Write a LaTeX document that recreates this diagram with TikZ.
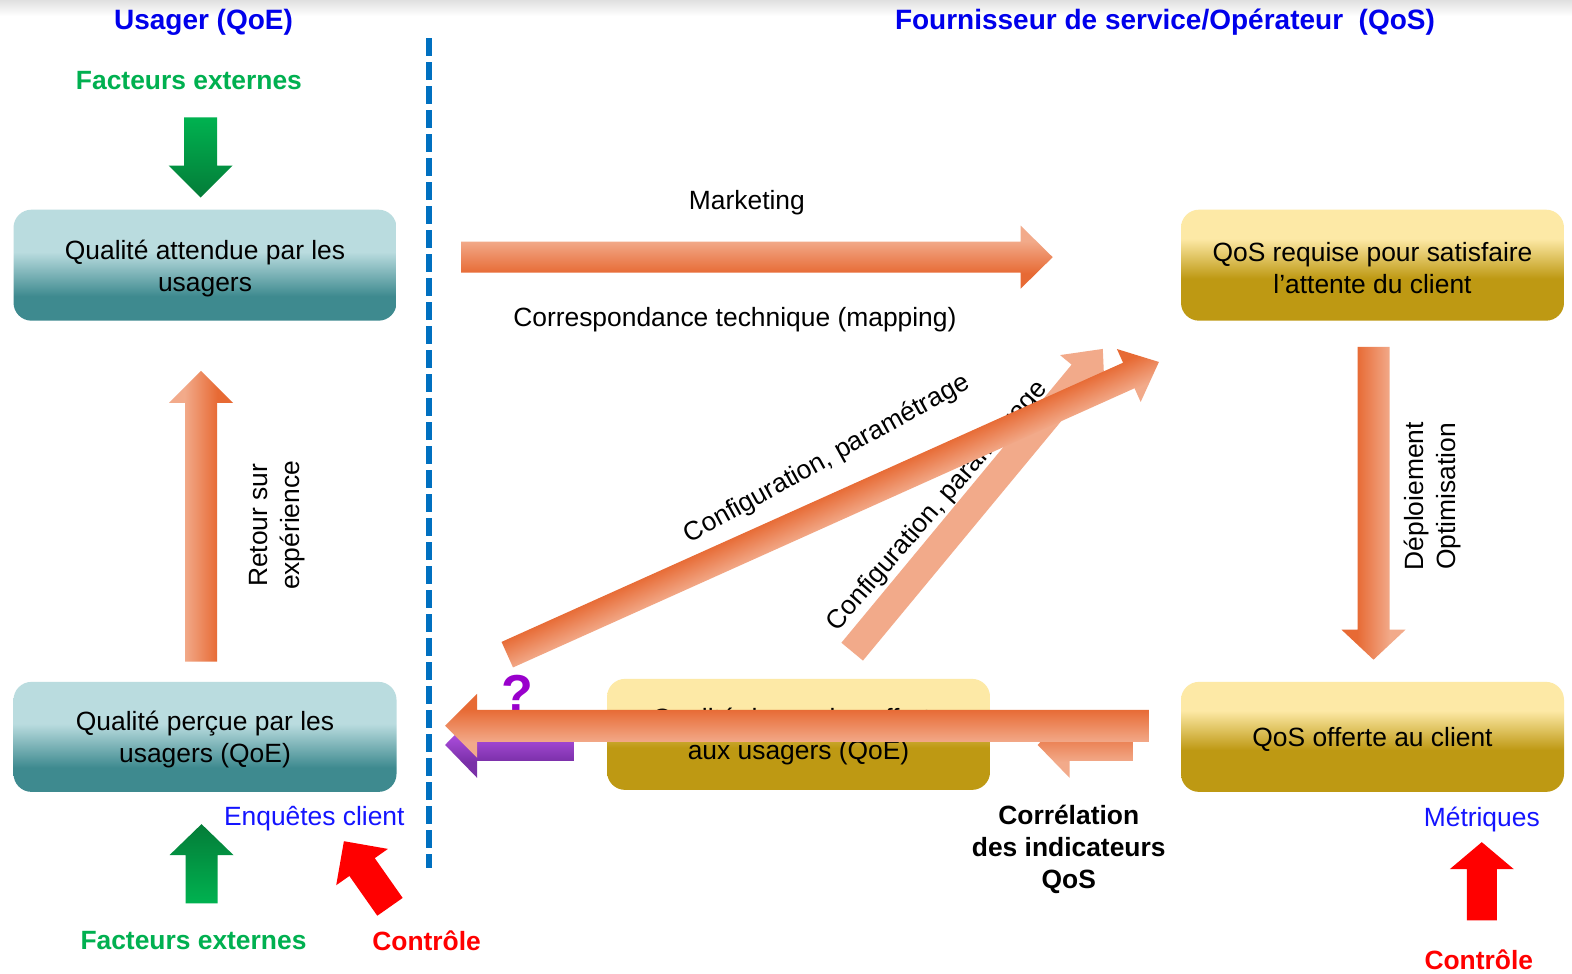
\documentclass[tikz,border=0pt]{standalone}
\usepackage{fontspec}
\setmainfont{Liberation Sans}
\usetikzlibrary{calc}

% palette
\definecolor{odark}{RGB}{231,106,52}
\definecolor{olight}{RGB}{242,170,138}
\definecolor{plight}{RGB}{184,84,234}
\definecolor{pdark}{RGB}{122,48,168}
\definecolor{tealL}{RGB}{186,220,223}
\definecolor{tealD}{RGB}{62,138,143}
\definecolor{goldL}{RGB}{253,233,166}
\definecolor{goldD}{RGB}{190,153,19}
\definecolor{gbright}{RGB}{0,178,80}
\definecolor{gdark}{RGB}{4,124,56}
\definecolor{hdrblue}{RGB}{0,0,235}
\definecolor{lblblue}{RGB}{20,20,255}
\definecolor{ggreen}{RGB}{0,176,80}
\definecolor{divblue}{RGB}{0,112,192}
\definecolor{qpurple}{RGB}{153,0,204}

% cross gradients for the block arrows (shaft covers the middle half)
\pgfdeclareverticalshading{shLD}{100bp}{color(0bp)=(odark); color(37bp)=(odark); color(63bp)=(olight); color(100bp)=(olight)}
\pgfdeclareverticalshading{shDL}{100bp}{color(0bp)=(olight); color(37bp)=(olight); color(63bp)=(odark); color(100bp)=(odark)}
\pgfdeclareverticalshading{shPurple}{100bp}{color(0bp)=(plight); color(37bp)=(plight); color(63bp)=(pdark); color(100bp)=(pdark)}
% box fills
\pgfdeclareverticalshading{shTeal}{100bp}{color(0bp)=(tealD); color(36bp)=(tealD); color(56bp)=(tealL); color(100bp)=(tealL)}
\pgfdeclareverticalshading{shGold}{100bp}{color(0bp)=(goldD); color(44bp)=(goldD); color(62bp)=(goldL); color(100bp)=(goldL)}

% block arrow from one named coordinate to another:
% [style]{tail}{tip}{half shaft width}{half head width}{head length}
\newdimen\baXa \newdimen\baYa \newdimen\baXb \newdimen\baYb
\newcommand\blockarrow[6][]{%
  \pgfextractx{\baXa}{\pgfpointanchor{#2}{center}}%
  \pgfextracty{\baYa}{\pgfpointanchor{#2}{center}}%
  \pgfextractx{\baXb}{\pgfpointanchor{#3}{center}}%
  \pgfextracty{\baYb}{\pgfpointanchor{#3}{center}}%
  \pgfmathsetmacro\baAng{atan2(\baYb-\baYa,\baXb-\baXa)}%
  \pgfmathsetmacro\baLen{veclen(\baXb-\baXa,\baYb-\baYa)}%
  \begin{scope}[transform canvas={shift={(\the\baXa,\the\baYa)},rotate=\baAng},x=1pt,y=1pt]
    \path[#1] (0,-#4) -- (\baLen-#6,-#4) -- (\baLen-#6,-#5) -- (\baLen,0)
      -- (\baLen-#6,#5) -- (\baLen-#6,#4) -- (0,#4) -- cycle;
  \end{scope}}

\tikzset{
  txt/.style={font=\fontsize{26.4}{32}\selectfont, align=center, inner sep=0pt},
  boldtxt/.style={font=\fontsize{26.4}{32}\selectfont\bfseries, align=center, inner sep=0pt},
  hdr/.style={font=\fontsize{28}{32}\selectfont\bfseries, text=hdrblue, inner sep=0pt},
  tealbox/.style={shade, shading=shTeal, rounded corners=18pt, minimum width=383pt, minimum height=111pt, inner sep=0pt},
  goldbox/.style={shade, shading=shGold, rounded corners=18pt, minimum width=383pt, minimum height=111pt, inner sep=0pt},
  arrLight/.style={shade, shading=shLD},
  arrDark/.style={shade, shading=shDL},
  arrPale/.style={fill=olight},
  arrPurple/.style={shade, shading=shPurple},
  arrGreen/.style={left color=gbright, right color=gdark},
  arrRed/.style={fill=red},
  divider/.style={draw=divblue, line width=6pt, dash pattern=on 18pt off 6pt}
}

\begin{document}
\begin{tikzpicture}[x=1.00255pt,y=-1.00255pt]
\useasboundingbox (0,0) rectangle (1568,971.5);
\fill[white] (0,0) rectangle (1568,971.5);
\shade[top color=black!12, bottom color=white] (0,0) rectangle (1568,16);

% column headers
\node[hdr] (hdrUser) at (203,22) {Usager (QoE)};
\node[hdr] (hdrProv) at (1162,22) {Fournisseur de service/Opérateur\ \ (QoS)};

% user / provider divider
\coordinate (divTop) at (428,38);
\coordinate (divBot) at (428,866);
\draw[divider] (divTop) -- (divBot);

% boxes
\node[tealbox] (expected) at (204.5,264.5) {};
\node[tealbox, minimum height=110pt] (perceived) at (204.5,735) {};
\node[goldbox] (required) at (1369,264.5) {};
\node[goldbox, minimum height=110pt] (offered) at (1369,735) {};
\node[goldbox] (achieved) at (796.5,732.5) {};
\node[txt] (expectedLbl) at (204.5,267.5) {Qualité attendue par les\\usagers};
\node[txt] (perceivedLbl) at (204.5,738) {Qualité perçue par les\\usagers (QoE)};
\node[txt] (requiredLbl) at (1369,267.5) {QoS requise pour satisfaire\\l’attente du client};
\node[txt] (offeredLbl) at (1369,738) {QoS offerte au client};
\node[txt] (achievedLbl) at (796.5,734.5) {Qualité de service offerte\\aux usagers (QoE)};

% arrow end points
\coordinate (feTopTail) at (200,117);   \coordinate (feTopTip) at (200,197);
\coordinate (feBotTail) at (201,901);   \coordinate (feBotTip) at (201,822);
\coordinate (ctlLTail) at (389,904.5);  \coordinate (ctlLTip) at (343,839);
\coordinate (ctlRTail) at (1478,918);   \coordinate (ctlRTip) at (1478,840);
\coordinate (retTail) at (200.5,660);   \coordinate (retTip) at (200.5,370);
\coordinate (depTail) at (1370,346);    \coordinate (depTip) at (1370,658);
\coordinate (mktTail) at (460,256.5);   \coordinate (mktTip) at (1050,256.5);
\coordinate (cfgATail) at (850,650);    \coordinate (cfgATip) at (1100,348);
\coordinate (cfgBTail) at (506,653);    \coordinate (cfgBTip) at (1156,361);
\coordinate (purTail) at (572,743);     \coordinate (purTip) at (444,743);
\coordinate (corTail) at (1130,743);    \coordinate (corTip) at (1035,743);
\coordinate (backTail) at (1146,724);   \coordinate (backTip) at (444,724);

% external factors and control
\blockarrow[arrGreen]{feTopTail}{feTopTip}{16.5}{32}{32}
\blockarrow[arrGreen]{feBotTail}{feBotTip}{16}{32}{31}
\blockarrow[arrRed]{ctlLTail}{ctlLTip}{15.5}{31.6}{31.6}
\blockarrow[arrRed]{ctlRTail}{ctlRTip}{15}{32}{27}

% main flows
\blockarrow[arrLight]{retTail}{retTip}{16}{32}{32}
\blockarrow[arrLight]{depTail}{depTip}{16}{32}{30}
\blockarrow[arrLight]{mktTail}{mktTip}{15.5}{31.5}{32}

% configuration arrows
\blockarrow[arrPale]{cfgATail}{cfgATip}{14}{29}{32}
\node[txt, rotate=49] (cfgALabel) at (935,505) {Configuration, paramétrage};
\blockarrow[arrDark]{cfgBTail}{cfgBTip}{14}{29}{33}
\node[txt, rotate=29] (cfgBLabel) at (825,458) {Configuration, paramétrage};

% feedback towards the user
\node[font=\fontsize{52}{52}\selectfont\bfseries, text=qpurple, inner sep=0pt] (qmark) at (516,692) {?};
\blockarrow[arrPurple]{purTail}{purTip}{16}{33}{32}
\blockarrow[arrLight]{corTail}{corTip}{16}{33}{32}
\blockarrow[arrLight]{backTail}{backTip}{16}{32}{32}

% labels
\node[boldtxt, text=ggreen] (feTop) at (188.5,80) {Facteurs externes};
\node[boldtxt, text=ggreen] (feBot) at (193,938) {Facteurs externes};
\node[boldtxt, text=red] (ctlL) at (425.5,938) {Contrôle};
\node[boldtxt, text=red] (ctlR) at (1475,957) {Contrôle};
\node[txt, text=lblblue] (surveys) at (313.5,817) {Enquêtes client};
\node[txt, text=lblblue] (metrics) at (1478,817) {Métriques};
\node[txt] (mkt) at (745,202) {Marketing};
\node[txt] (mapping) at (733,318.5) {Correspondance technique (mapping)};
\node[txt, rotate=90] (retLabel) at (276,524) {Retour sur\\expérience};
\node[txt, rotate=90] (depLabel) at (1429,495) {Déploiement\\Optimisation};
\node[boldtxt] (correl) at (1066,847) {Corrélation\\des indicateurs\\QoS};
\end{tikzpicture}
\end{document}
